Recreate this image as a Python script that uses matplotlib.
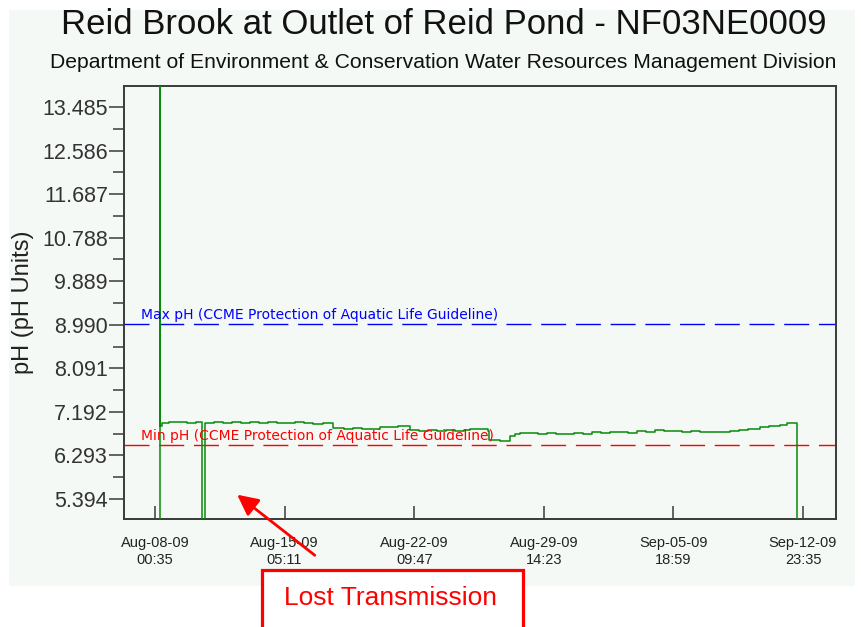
import datetime as dt
import matplotlib
matplotlib.use("Agg")
import matplotlib.pyplot as plt
import matplotlib.dates as mdates
from matplotlib.patches import Rectangle, FancyArrowPatch
from matplotlib.ticker import FixedLocator, FixedFormatter

# pH readings (4.0 = lost transmission, 14.5 = start spike, both off scale)
times = [
    "2009-08-08 07:00", "2009-08-08 07:00", "2009-08-08 07:30", "2009-08-08 10:00",
    "2009-08-08 19:00", "2009-08-09 07:00", "2009-08-09 19:00", "2009-08-10 07:00",
    "2009-08-10 15:15", "2009-08-10 15:15", "2009-08-10 19:05", "2009-08-11 07:00",
    "2009-08-11 19:00", "2009-08-12 07:00", "2009-08-12 19:00", "2009-08-13 07:00",
    "2009-08-13 19:00", "2009-08-14 07:00", "2009-08-14 19:00", "2009-08-15 07:00",
    "2009-08-15 19:00", "2009-08-16 07:00", "2009-08-16 19:00", "2009-08-17 02:00",
    "2009-08-17 08:00", "2009-08-17 21:45", "2009-08-18 12:00", "2009-08-19 00:00",
    "2009-08-19 12:00", "2009-08-20 12:00", "2009-08-21 00:00", "2009-08-21 12:00",
    "2009-08-22 04:00", "2009-08-22 16:00", "2009-08-23 04:00", "2009-08-23 16:00",
    "2009-08-24 04:00", "2009-08-24 16:00", "2009-08-25 04:00", "2009-08-25 12:00",
    "2009-08-26 00:00", "2009-08-26 12:00", "2009-08-26 14:00", "2009-08-27 04:00",
    "2009-08-27 10:00", "2009-08-27 17:00", "2009-08-28 00:00", "2009-08-28 07:00",
    "2009-08-28 18:00", "2009-08-29 06:00", "2009-08-29 18:00", "2009-08-30 06:00",
    "2009-08-30 18:00", "2009-08-31 06:00", "2009-08-31 18:00", "2009-09-01 06:00",
    "2009-09-01 18:00", "2009-09-02 06:00", "2009-09-02 18:00", "2009-09-03 06:00",
    "2009-09-03 18:00", "2009-09-04 06:00", "2009-09-04 18:00", "2009-09-05 06:00",
    "2009-09-05 18:00", "2009-09-06 06:00", "2009-09-06 18:00", "2009-09-07 06:00",
    "2009-09-07 18:00", "2009-09-08 06:00", "2009-09-08 22:00", "2009-09-09 10:00",
    "2009-09-09 22:00", "2009-09-10 14:00", "2009-09-11 02:00", "2009-09-11 17:00",
    "2009-09-12 02:00", "2009-09-12 09:00", "2009-09-12 15:45", "2009-09-12 15:45",
]
ph = [
    4.00, 14.50, 6.90, 6.97,
    6.98, 6.99, 6.97, 6.99,
    6.98, 4.00, 6.97, 6.98,
    6.96, 6.99, 6.97, 6.98,
    6.96, 6.98, 6.97, 6.96,
    6.98, 6.97, 6.94, 6.95,
    6.97, 6.85, 6.84, 6.85,
    6.83, 6.88, 6.87, 6.89,
    6.81, 6.80, 6.82, 6.80,
    6.81, 6.79, 6.82, 6.84,
    6.83, 6.80, 6.62, 6.59,
    6.60, 6.70, 6.74, 6.76,
    6.75, 6.74, 6.76, 6.74,
    6.73, 6.75, 6.74, 6.77,
    6.75, 6.77, 6.78, 6.76,
    6.79, 6.78, 6.82, 6.79,
    6.80, 6.78, 6.79, 6.78,
    6.77, 6.78, 6.80, 6.81,
    6.84, 6.88, 6.90, 6.92,
    6.96, 6.97, 6.94, 4.00,
]

max_ph = 9.0
min_ph = 6.5
y_ticks = [5.394, 6.293, 7.192, 8.091, 8.990, 9.889, 10.788, 11.687, 12.586, 13.485]
x_tick_labels = ["Aug-08-09\n00:35", "Aug-15-09\n05:11", "Aug-22-09\n09:47",
                 "Aug-29-09\n14:23", "Sep-05-09\n18:59", "Sep-12-09\n23:35"]

W, H = 862, 627
fig = plt.figure(figsize=(W / 100, H / 100), dpi=100)
fig.patch.set_facecolor("white")
bg = "#f5f9f6"

def fx(x):
    return x / W

def fy(y):
    return 1 - y / H

# light panel behind the chart
fig.patches.append(Rectangle((fx(9), fy(586)), fx(855) - fx(9), fy(10) - fy(586),
                             transform=fig.transFigure, facecolor=bg, edgecolor="none", zorder=-5))

ax = fig.add_axes([fx(124), fy(519), fx(836) - fx(124), fy(86) - fy(519)])
ax.set_facecolor(bg)

t = [dt.datetime.strptime(s, "%Y-%m-%d %H:%M") for s in times]
ax.plot(t, ph, color="#0a8a0a", lw=1.1, drawstyle="steps-post", zorder=3)

ax.axhline(max_ph, color="#0000ff", lw=1.0, dashes=(18, 7), zorder=2)
ax.axhline(min_ph, color="#ff0000", lw=1.0, dashes=(18, 7), zorder=2)

start = dt.datetime(2009, 8, 8, 0, 35)
step = dt.timedelta(days=7, hours=4, minutes=36)
tick_pos = [start + k * step for k in range(len(x_tick_labels))]
ax.set_xlim(start - dt.timedelta(days=1.72), start + 5 * step + dt.timedelta(days=1.83))
ax.set_ylim(4.98, 13.92)

ax.xaxis.set_major_locator(FixedLocator(mdates.date2num(tick_pos)))
ax.xaxis.set_major_formatter(FixedFormatter(x_tick_labels))
ax.set_yticks(y_ticks)
ax.set_yticklabels(["%.3f" % v for v in y_ticks])
ax.yaxis.set_minor_locator(FixedLocator([v + 0.4495 for v in y_ticks]))

for s in ax.spines.values():
    s.set_color("#3a3a3a")
    s.set_linewidth(1.4)

ax.tick_params(axis="x", direction="in", length=9.5, width=1.1, color="#3a3a3a", pad=12,
               labelsize=10.5, labelcolor="#222222")
ax.tick_params(axis="y", which="major", direction="out", length=10.8, width=1.1, color="#3a3a3a",
               pad=0.8, labelsize=15.5, labelcolor="#333333")
ax.tick_params(axis="y", which="minor", direction="out", length=7.9, width=1.1, color="#3a3a3a")
for lab in ax.get_xticklabels():
    lab.set_fontfamily("Liberation Sans")
    lab.set_linespacing(1.3)
for lab in ax.get_yticklabels():
    lab.set_fontfamily("Liberation Sans")

ax.text(0.0235, max_ph + 0.04, "Max pH (CCME Protection of Aquatic Life Guideline)",
        transform=ax.get_yaxis_transform(), color="#0000ff", fontsize=10,
        va="bottom", ha="left")
ax.text(0.0235, min_ph + 0.04, "Min pH (CCME Protection of Aquatic Life Guideline)",
        transform=ax.get_yaxis_transform(), color="#ff0000", fontsize=10,
        va="bottom", ha="left")

ax.set_ylabel("pH (pH Units)", fontsize=17, fontfamily="Liberation Sans", color="#222222")
ax.yaxis.set_label_coords(-(124 - 34) / (836 - 124), 0.5)

fig.text(fx(444), fy(24), "Reid Brook at Outlet of Reid Pond - NF03NE0009",
         ha="center", va="center", fontsize=25, fontfamily="Liberation Sans", color="#111111")
fig.text(fx(443), fy(62), "Department of Environment & Conservation Water Resources Management Division",
         ha="center", va="center", fontsize=15.2, fontfamily="Liberation Sans", color="#111111")

# Lost Transmission call-out
fig.patches.append(Rectangle((fx(262), fy(660)), fx(523) - fx(262), fy(570) - fy(660),
                             transform=fig.transFigure, facecolor="white", edgecolor="#ff0000",
                             lw=2.3, zorder=5))
fig.text(fx(391), fy(598), "Lost Transmission", ha="center", va="center", fontsize=19,
         fontfamily="Liberation Sans", color="#ff0000", zorder=6)
fig.add_artist(FancyArrowPatch(
    (fx(317), fy(557)), (fx(235), fy(493)), transform=fig.transFigure,
    arrowstyle="-|>,head_length=0.9,head_width=0.45", mutation_scale=14,
    color="#ff0000", lw=2.0, zorder=6))

fig.savefig("out.png", dpi=100)
